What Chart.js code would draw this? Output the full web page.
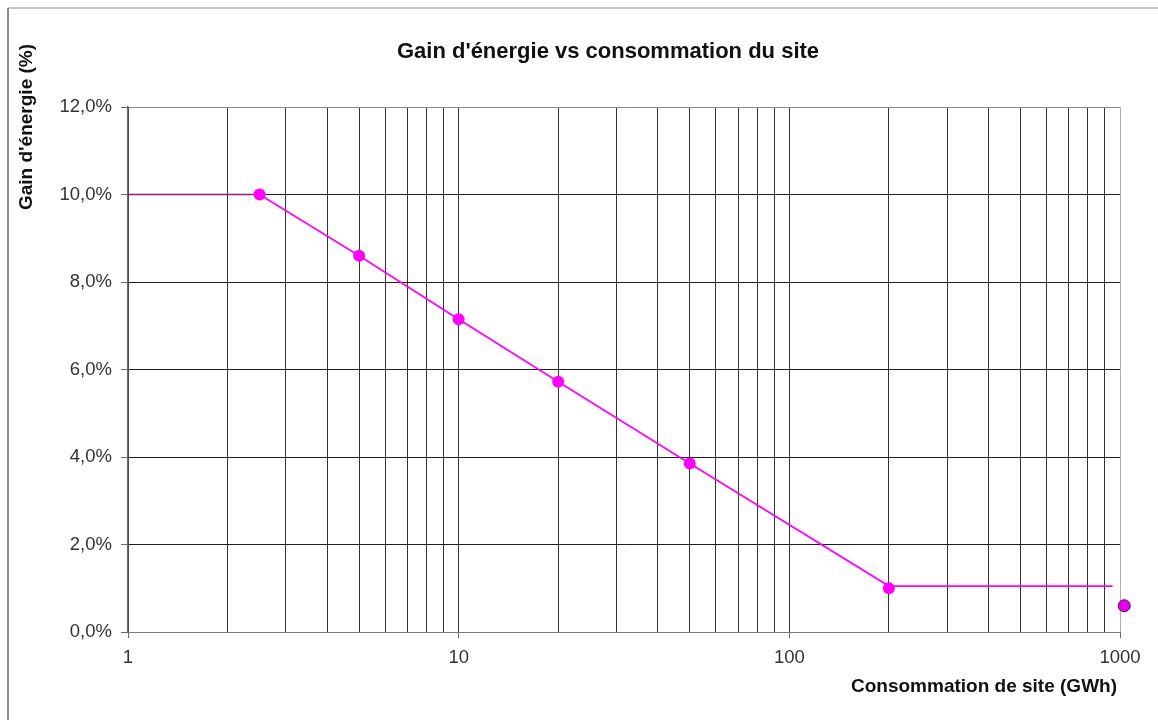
<!DOCTYPE html>
<html lang="fr">
<head>
<meta charset="utf-8">
<title>Gain d'énergie vs consommation du site</title>
<script src="https://cdn.jsdelivr.net/npm/chart.js@4.4.1/dist/chart.umd.min.js"></script>
<style>
  html, body { margin: 0; padding: 0; background: #ffffff; }
  #wrap { position: relative; width: 1158px; height: 720px; }
  canvas { display: block; }
</style>
</head>
<body>
<div id="wrap"><canvas id="chart" width="1158" height="720"></canvas></div>
<script>
// Consommation de site (GWh) et gain d'énergie (%) — courbe de gain
const lineConsumption = [1, 2.5, 5, 10, 20, 50, 200, 950];
const lineGain = [10.0, 10.0, 8.6, 7.15, 5.72, 3.85, 1.05, 1.05];

// Points de mesure affichés
const markerConsumption = [2.5, 5, 10, 20, 50, 200];
const markerGain = [10.0, 8.6, 7.15, 5.72, 3.85, 1.0];

// Point isolé au-delà de 1000 GWh
const extraConsumption = [1030];
const extraGain = [0.6];

// Graduations
const xTickLabels = [1, 10, 100, 1000];
const yTicks = [0, 2, 4, 6, 8, 10, 12];

const chartTitle = "Gain d'énergie vs consommation du site";
const yAxisTitle = "Gain d'énergie (%)";
const xAxisTitle = "Consommation de site (GWh)";

const FONT = '"Liberation Sans", Arial, Helvetica, sans-serif';

const toPoints = (xs, ys) => xs.map((x, i) => ({ x: x, y: ys[i] }));

const isPow10 = v => Math.abs(Math.log10(v) - Math.round(Math.log10(v))) < 1e-9;

// Quadrillage logarithmique : 1..9 par décade, jusqu'à la dernière étiquette
function logGridValues() {
  const vals = [];
  for (let d = 0; d < xTickLabels.length - 1; d++) {
    for (let m = 1; m <= 9; m++) vals.push(m * xTickLabels[d]);
  }
  vals.push(xTickLabels[xTickLabels.length - 1]);
  return vals;
}

// Cadre, fond et titres dessinés sur le canevas
const framePlugin = {
  id: 'frame',
  beforeDraw(chart) {
    const c = chart.ctx;
    c.save();
    c.fillStyle = '#ffffff';
    c.fillRect(0, 0, chart.width, chart.height);
    c.lineWidth = 2;
    c.strokeStyle = '#c4c4c4';
    c.beginPath();
    c.moveTo(8, 8);
    c.lineTo(chart.width, 8);
    c.stroke();
    c.strokeStyle = '#8c8c8c';
    c.beginPath();
    c.moveTo(8, 8);
    c.lineTo(8, chart.height);
    c.stroke();
    c.restore();
  },
  afterDraw(chart) {
    const c = chart.ctx;
    c.save();
    c.fillStyle = '#111111';
    c.textBaseline = 'middle';

    c.font = 'bold 22px ' + FONT;
    c.textAlign = 'center';
    c.fillText(chartTitle, 608, 52);

    c.font = 'bold 19px ' + FONT;
    c.textAlign = 'right';
    c.fillText(xAxisTitle, 1117, 687);

    c.translate(27, 127);
    c.rotate(-Math.PI / 2);
    c.textAlign = 'center';
    c.fillText(yAxisTitle, 0, 0);
    c.restore();
  }
};

new Chart(document.getElementById('chart'), {
  type: 'scatter',
  data: {
    datasets: [
      {
        label: 'Gain',
        data: toPoints(lineConsumption, lineGain),
        showLine: true,
        borderColor: '#ff00ff',
        borderWidth: 1.7,
        pointRadius: 0,
        pointHoverRadius: 0,
        segment: {
          borderColor: ctx => ctx.p0DataIndex === 0 ? '#8e1c7e' : undefined
        },
        order: 2
      },
      {
        label: 'Points',
        data: toPoints(markerConsumption, markerGain),
        showLine: false,
        pointRadius: 6,
        pointBackgroundColor: '#ff00ff',
        pointBorderColor: '#ff00ff',
        pointBorderWidth: 0,
        order: 1
      },
      {
        label: 'Hors échelle',
        data: toPoints(extraConsumption, extraGain),
        showLine: false,
        clip: false,
        pointRadius: 6,
        pointBackgroundColor: '#e600e6',
        pointBorderColor: '#6a006a',
        pointBorderWidth: 1,
        order: 0
      }
    ]
  },
  options: {
    responsive: false,
    animation: false,
    devicePixelRatio: 1,
    layout: { padding: { top: 107, right: 38, bottom: 0, left: 0 } },
    plugins: {
      legend: { display: false },
      title: { display: false },
      tooltip: { enabled: false }
    },
    scales: {
      x: {
        type: 'logarithmic',
        min: xTickLabels[0],
        max: xTickLabels[xTickLabels.length - 1],
        afterFit: s => { s.height = 88; },
        afterBuildTicks: s => { s.ticks = logGridValues().map(v => ({ value: v, major: isPow10(v) })); },
        border: { display: true, color: '#7a7a7a', width: 1 },
        grid: {
          display: true,
          drawTicks: true,
          tickLength: 6,
          lineWidth: 1,
          color: ctx => (ctx.tick && ctx.tick.value === 1000) ? '#b0b0b0' : '#333333',
          tickColor: ctx => (ctx.tick && isPow10(ctx.tick.value)) ? '#6a6a6a' : 'rgba(0,0,0,0)'
        },
        ticks: {
          autoSkip: false,
          maxRotation: 0,
          minRotation: 0,
          padding: 9,
          color: '#333333',
          font: { family: FONT, size: 18.5 },
          callback: v => (isPow10(v) && xTickLabels.includes(Math.round(v))) ? String(Math.round(v)) : ''
        }
      },
      y: {
        type: 'linear',
        min: yTicks[0],
        max: yTicks[yTicks.length - 1],
        afterFit: s => { s.width = 128; },
        afterBuildTicks: s => { s.ticks = yTicks.map(v => ({ value: v })); },
        border: { display: true, color: '#6a6a6a', width: 1.5 },
        grid: {
          display: true,
          drawTicks: true,
          tickLength: 7,
          lineWidth: 1,
          color: ctx => (ctx.tick && ctx.tick.value === 12) ? '#8a8a8a' : (ctx.tick && ctx.tick.value === 0 ? '#7a7a7a' : '#1e1e1e'),
          tickColor: '#6a6a6a'
        },
        ticks: {
          padding: 9,
          color: '#333333',
          font: { family: FONT, size: 18.5 },
          callback: v => v.toFixed(1).replace('.', ',') + '%'
        }
      }
    }
  },
  plugins: [framePlugin]
});
</script>
</body>
</html>
